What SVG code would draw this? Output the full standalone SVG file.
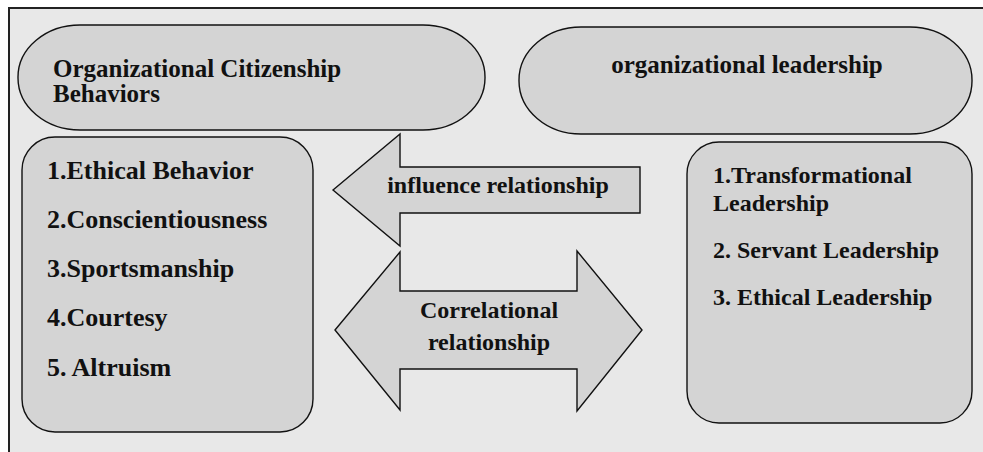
<svg xmlns="http://www.w3.org/2000/svg" width="983" height="452" viewBox="0 0 983 452">
  <style>
    .shape { fill: #d4d4d4; stroke: #111; stroke-width: 1.4; }
    .label { font-family: "Liberation Serif", "Times New Roman", serif; font-weight: bold; font-size: 25px; fill: #111; }
    .list { font-size: 26px; }
    .small { font-size: 24px; }
    .mid { text-anchor: middle; }
  </style>
  <!-- page background and frame -->
  <rect x="0" y="0" width="983" height="452" fill="#ffffff"/>
  <rect x="9" y="8" width="974" height="444" fill="#e8e8e8"/>
  <path d="M9 452 V8 H983" fill="none" stroke="#222" stroke-width="2"/>

  <g id="ocb-title">
    <rect class="shape" x="18" y="25" width="467" height="105" rx="62" ry="52"/>
    <text class="label" x="53" y="77">Organizational Citizenship</text>
    <text class="label" x="53" y="102">Behaviors</text>
  </g>

  <g id="leadership-title">
    <rect class="shape" x="519" y="27" width="453" height="107" rx="62" ry="53"/>
    <text class="label mid" x="747" y="73">organizational leadership</text>
  </g>

  <g id="ocb-list">
    <rect class="shape" x="22" y="137" width="291" height="295" rx="33" ry="33"/>
    <text class="label list" x="47" y="179">1.Ethical Behavior</text>
    <text class="label list" x="47" y="228">2.Conscientiousness</text>
    <text class="label list" x="47" y="277">3.Sportsmanship</text>
    <text class="label list" x="47" y="326">4.Courtesy</text>
    <text class="label list" x="47" y="376">5. Altruism</text>
  </g>

  <g id="leadership-list">
    <rect class="shape" x="687" y="142" width="285" height="281" rx="32" ry="32"/>
    <text class="label small" x="713" y="183">1.Transformational</text>
    <text class="label small" x="713" y="211">Leadership</text>
    <text class="label small" x="713" y="258">2. Servant Leadership</text>
    <text class="label small" x="713" y="305">3. Ethical Leadership</text>
  </g>

  <g id="connectors">
    <g id="influence-arrow">
      <path class="shape" d="M333 190 L400 134 V167 H640 V213 H400 V246 Z"/>
      <text class="label small mid" x="498" y="193">influence relationship</text>
    </g>
    <g id="correlation-arrow">
      <path class="shape" d="M335 330 L400 252 V291 H577 V251 L642 330 L577 411 V369 H400 V410 Z"/>
      <text class="label small mid" x="489" y="318">Correlational</text>
      <text class="label small mid" x="489" y="350">relationship</text>
    </g>
  </g>
</svg>
